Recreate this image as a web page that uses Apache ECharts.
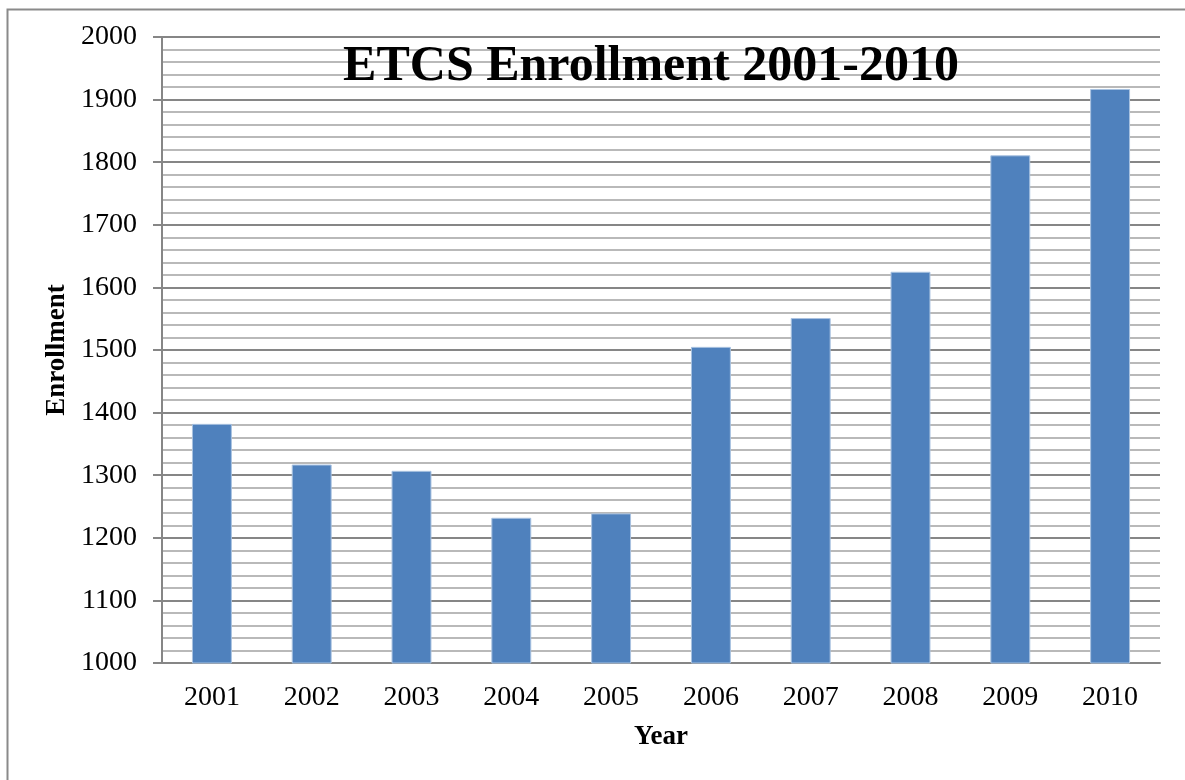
<!DOCTYPE html>
<html>
<head>
<meta charset="utf-8">
<script src="https://cdn.jsdelivr.net/npm/echarts@6/dist/echarts.min.js"></script>
<style>html,body{margin:0;padding:0;background:#fff}#c{width:1185px;height:780px}</style>
</head>
<body>
<div id="c"></div>
<script>
const years = ['2001','2002','2003','2004','2005','2006','2007','2008','2009','2010'];
const enrollment = [1382, 1317, 1307, 1232, 1239, 1505, 1551, 1625, 1811, 1917];
const titleText = 'ETCS Enrollment 2001-2010';
const xName = 'Year';
const yName = 'Enrollment';

const chart = echarts.init(document.getElementById('c'));
const serif = '"Liberation Serif", "DejaVu Serif", serif';
chart.setOption({
  animation: false,
  backgroundColor: '#fff',
  graphic: [{
    type: 'rect', left: 5, top: 7, z: -1,
    shape: { width: 1250, height: 850 },
    style: { fill: 'none', stroke: '#8a8a8a', lineWidth: 2 }
  }],
  title: {
    text: titleText, left: 646, top: 37, textAlign: 'center',
    textStyle: { fontFamily: serif, fontWeight: 'bold', fontSize: 50, color: '#000' }
  },
  grid: { left: 162, right: 25, top: 37, bottom: 117 },
  xAxis: {
    type: 'category', data: years,
    name: xName, nameLocation: 'middle', nameGap: 61,
    nameTextStyle: { fontFamily: serif, fontWeight: 'bold', fontSize: 27, color: '#000' },
    axisLine: { lineStyle: { color: '#868686', width: 2 } },
    axisTick: { show: false },
    axisLabel: { fontFamily: serif, fontSize: 28, color: '#000', margin: 21 }
  },
  yAxis: {
    type: 'value', min: 1000, max: 2000, interval: 100,
    name: yName, nameLocation: 'middle', nameGap: 90, nameRotate: 90,
    nameTextStyle: { fontFamily: serif, fontWeight: 'bold', fontSize: 27, color: '#000' },
    axisLine: { show: true, lineStyle: { color: '#868686', width: 2 } },
    axisTick: { show: true, inside: false, length: 9, lineStyle: { color: '#868686', width: 2 } },
    axisLabel: { fontFamily: serif, fontSize: 28, color: '#000', margin: 25, formatter: v => String(v) },
    splitLine: { show: true, lineStyle: { color: '#868686', width: 2 } },
    minorTick: { show: false, splitNumber: 5 },
    minorSplitLine: { show: true, lineStyle: { color: '#b9b9b9', width: 2 } }
  },
  series: [{
    type: 'bar', data: enrollment, barCategoryGap: '60%',
    itemStyle: { color: '#4f81bd', borderColor: '#a9c2e0', borderWidth: 1 }
  }]
});
</script>
</body>
</html>
